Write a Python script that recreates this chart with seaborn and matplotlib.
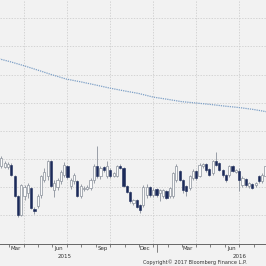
# Weekly candlestick chart (Bloomberg style) with a slow moving average line
import seaborn as sns
import matplotlib.pyplot as plt
import matplotlib.dates as mdates
import matplotlib.ticker as mticker
import matplotlib.transforms as mtransforms
import pandas as pd

# Data
first_week = "2015-02-13"
opens = [27.5, 27.2, 27.2, 27.9, 24.0, 16.9, 10.1, 16.9, 17.9, 19.7,
         12.3, 13.3, 17.2, 22.6, 24.0, 29.3, 19.0, 20.1, 22.2, 24.3,
         27.5, 20.4, 22.2, 22.2, 16.9, 19.4, 19.4, 19.7, 22.6, 27.5,
         24.0, 27.2, 24.0, 26.1, 24.0, 24.0, 27.5, 26.8, 20.4, 18.3,
         14.4, 15.5, 13.7, 13.7, 17.2, 20.1, 17.2, 19.4, 17.9, 16.9,
         18.6, 16.9, 16.9, 22.6, 25.8, 22.6, 20.4, 19.7, 23.3, 25.8,
         24.0, 27.5, 28.2, 26.5, 25.0, 29.3, 28.6, 26.1, 24.3, 24.3,
         27.5, 25.4, 25.8, 20.8, 22.9, 20.4, 21.1, 20.8, 24.0, 22.2,
         24.0]
highs = [31.1, 29.3, 29.0, 28.6, 24.3, 17.2, 21.1, 20.8, 21.5, 20.1,
         13.0, 17.6, 24.3, 26.8, 29.7, 29.7, 22.6, 23.3, 26.1, 29.0,
         27.9, 23.3, 25.0, 22.6, 21.1, 20.4, 20.8, 23.3, 28.2, 34.6,
         27.5, 27.5, 29.3, 26.8, 25.4, 27.9, 28.2, 27.2, 20.8, 18.7,
         15.8, 15.8, 14.0, 20.8, 21.1, 20.4, 19.7, 19.7, 19.4, 19.4,
         19.0, 20.1, 25.4, 28.2, 26.1, 22.9, 20.8, 24.3, 26.5, 26.1,
         28.6, 28.6, 28.6, 26.8, 29.7, 32.5, 29.0, 26.5, 24.7, 27.9,
         27.9, 26.5, 26.8, 24.0, 23.3, 21.8, 21.5, 21.8, 24.3, 25.0,
         27.9]
lows = [26.8, 26.8, 26.5, 24.0, 16.5, 9.4, 9.8, 15.5, 16.2, 12.3,
        10.5, 12.6, 16.2, 21.8, 22.6, 20.1, 16.5, 19.0, 21.1, 23.6,
        22.9, 19.4, 21.1, 16.5, 16.2, 18.7, 19.0, 19.0, 21.5, 23.3,
        22.9, 25.4, 23.3, 23.3, 23.6, 23.6, 26.5, 20.1, 17.9, 14.4,
        13.7, 12.6, 10.8, 13.0, 16.2, 16.5, 16.5, 16.5, 15.1, 16.2,
        15.8, 16.2, 16.2, 21.8, 22.2, 17.9, 16.9, 19.0, 22.6, 22.6,
        23.6, 26.8, 25.4, 24.0, 24.3, 27.5, 25.8, 23.6, 21.8, 23.6,
        25.4, 25.0, 18.7, 20.1, 20.1, 19.7, 19.4, 20.1, 21.5, 21.5,
        23.3]
closes = [30.4, 28.6, 28.2, 24.3, 16.9, 10.1, 20.8, 20.1, 20.8, 12.6,
          11.5, 16.9, 24.0, 25.4, 29.3, 20.4, 21.5, 22.6, 25.4, 27.9,
          23.6, 22.6, 24.3, 16.9, 20.4, 19.7, 20.1, 22.6, 27.5, 24.0,
          26.8, 26.1, 27.5, 24.0, 25.0, 27.5, 26.8, 20.4, 18.3, 15.1,
          15.5, 13.0, 11.9, 20.1, 20.1, 17.2, 19.0, 17.2, 19.0, 19.0,
          16.2, 19.7, 25.0, 27.5, 22.6, 19.0, 18.6, 24.0, 25.8, 23.3,
          27.9, 28.2, 26.1, 24.3, 29.3, 27.9, 26.1, 24.3, 22.6, 27.5,
          25.8, 26.1, 22.6, 23.3, 20.8, 21.5, 19.7, 21.5, 22.2, 24.3,
          27.5]

ma_dates = ["2015-02-01", "2015-03-01", "2015-04-01", "2015-05-01", "2015-06-01",
            "2015-07-01", "2015-08-01", "2015-09-01", "2015-10-01", "2015-11-01",
            "2015-12-01", "2016-01-01", "2016-02-01", "2016-03-01", "2016-04-01",
            "2016-05-01", "2016-06-01", "2016-07-01", "2016-08-01", "2016-09-01"]
ma_values = [65.9, 64.7, 63.2, 61.6, 59.9, 58.4, 57.4, 56.3, 55.2, 54.2,
             53.3, 52.0, 51.2, 50.4, 49.9, 49.4, 48.8, 48.3, 47.6, 46.7]

month_labels = ["Mar", "Jun", "Sep", "Dec", "Mar", "Jun"]
month_label_dates = ["2015-03-15", "2015-06-15", "2015-09-15",
                     "2015-12-15", "2016-03-15", "2016-06-15"]
year_labels = ["2015", "2016"]
year_label_dates = ["2015-06-28", "2016-07-03"]
grid_dates = ["2015-04-01", "2015-07-01", "2015-10-01",
              "2016-01-01", "2016-04-01", "2016-07-01"]

if __name__ == "__main__":
    sns.set_theme(style="white", rc={
        "axes.facecolor": "#f2f2f2",
        "figure.facecolor": "#f2f2f2",
        "grid.color": "#c8c8c8",
        "grid.linestyle": (0, (2, 2)),
        "grid.linewidth": 0.5,
    })
    plt.rcParams["font.family"] = ["DejaVu Sans"]

    df = pd.DataFrame({
        "date": pd.date_range(first_week, periods=len(opens), freq="7D"),
        "open": opens, "high": highs, "low": lows, "close": closes,
    })
    df["bottom"] = df[["open", "close"]].min(axis=1)
    df["body"] = (df["close"] - df["open"]).abs().clip(lower=0.35)
    up = df[df["close"] >= df["open"]]
    down = df[df["close"] < df["open"]]

    fig = plt.figure(figsize=(2.66, 2.66), dpi=100)
    ax = fig.add_axes([0, 22.5 / 266, 1, 243.5 / 266])

    # Slow moving average
    ma = pd.DataFrame({"date": pd.to_datetime(ma_dates), "value": ma_values})
    sns.lineplot(data=ma, x="date", y="value", ax=ax, color="#7c9fc6",
                 lw=0.9, linestyle=(0, (1, 0.8)), zorder=2)

    # Candles
    ax.vlines(df["date"], df["low"], df["high"], color="#8a919b", lw=0.6, zorder=3)
    ax.bar(up["date"], up["body"], bottom=up["bottom"], width=4.6,
           color="#fbfbfb", edgecolor="#8a919b", lw=0.5, zorder=4)
    ax.bar(down["date"], down["body"], bottom=down["bottom"], width=4.6,
           color="#1c2b5a", edgecolor="#1c2b5a", lw=0.4, zorder=4)

    # Grid
    for d in grid_dates:
        ax.axvline(pd.Timestamp(d), color="#c8c8c8", lw=0.5,
                   ls=(0, (2, 2)), zorder=0)
    ax.set_yticks(range(0, 90, 10))
    ax.yaxis.grid(True, zorder=0)
    ax.tick_params(axis="y", length=0, labelleft=False)
    ax.set_ylim(0, 86.5)
    ax.set_xlim(pd.Timestamp("2015-02-10"), pd.Timestamp("2016-08-27"))

    # X axis: month ticks, mid-month labels
    ax.xaxis.set_major_locator(mdates.MonthLocator())
    ax.xaxis.set_major_formatter(mticker.NullFormatter())
    ax.set_xticks(pd.to_datetime(month_label_dates), labels=month_labels, minor=True)
    ax.tick_params(axis="x", which="major", length=2.2, width=0.5,
                   color="#555555", direction="out", bottom=True)
    ax.tick_params(axis="x", which="minor", length=0, pad=1.5,
                   labelsize=4, labelcolor="#333333")
    ax.set_xlabel("")
    ax.set_ylabel("")

    for s in ["top", "left", "right"]:
        ax.spines[s].set_visible(False)
    ax.spines["bottom"].set_color("#666666")
    ax.spines["bottom"].set_linewidth(0.7)

    trans = mtransforms.blended_transform_factory(ax.transData, ax.transAxes)
    for lbl, d in zip(year_labels, year_label_dates):
        ax.text(pd.Timestamp(d), -0.052, lbl, transform=trans, ha="center",
                va="center", fontsize=4, color="#333333")
    sep = pd.Timestamp("2016-01-09")
    ax.plot([sep, sep], [0, -0.035], transform=trans, color="#555555",
            lw=0.5, clip_on=False)

    fig.text(143 / 266, 1 - 262 / 266, "Copyright\u00a9 2017 Bloomberg Finance L.P.",
             ha="left", va="center", fontsize=3.6, color="#333333")

    fig.savefig("out.png", dpi=100)
